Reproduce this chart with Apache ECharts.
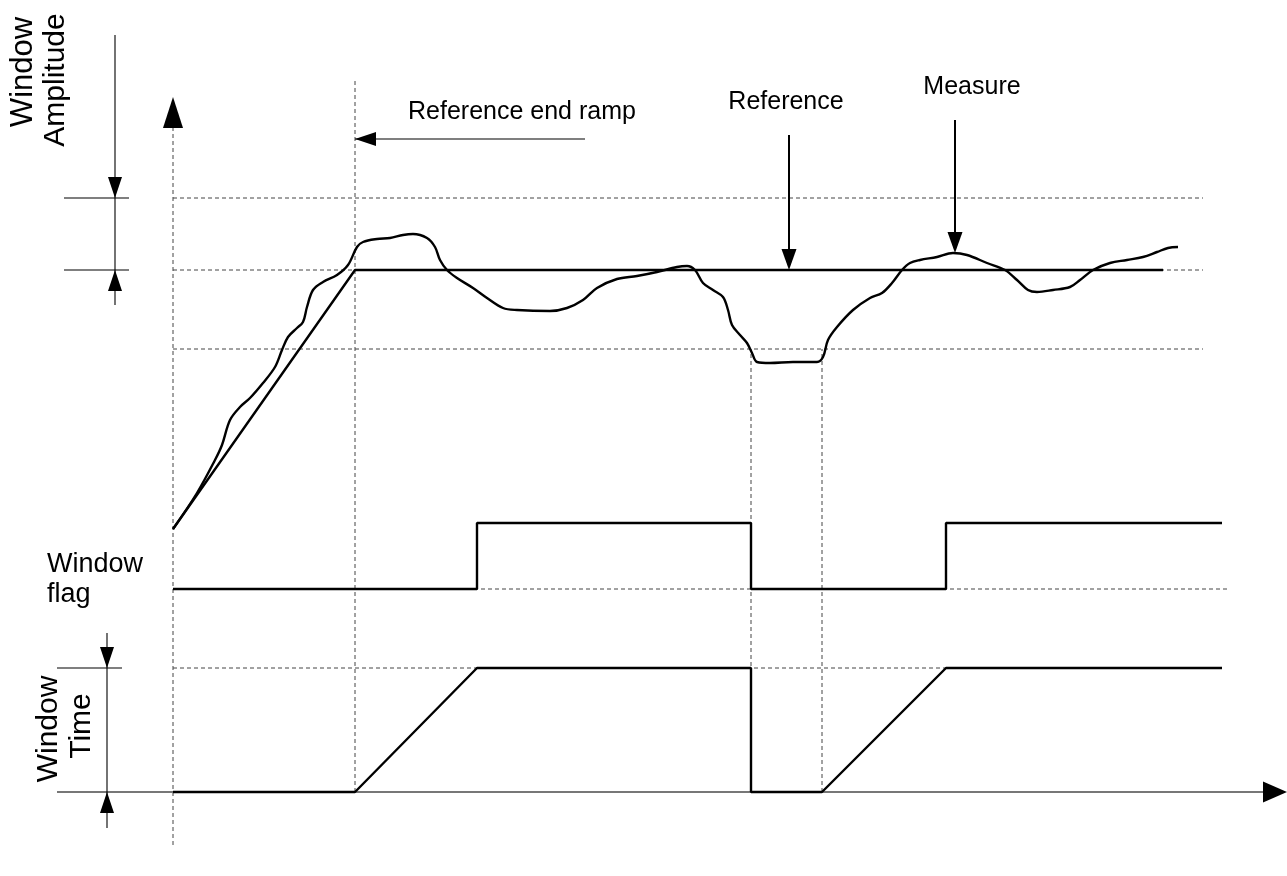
<!DOCTYPE html>
<html><head><meta charset="utf-8">
<script src="https://cdn.jsdelivr.net/npm/echarts@6/dist/echarts.min.js"></script>
<style>html,body{margin:0;padding:0;background:#fff}#c{width:1287px;height:876px}</style>
</head><body><div id="c"></div><script>
// ---- DATA (x: time units from the time origin, y: level units above the time baseline) ----
const referenceSignal = [[0,263],[182,522],[990,522]];
const measureSignal = [[0,263],[24,299],[42,332],[49,347],[57,372],[67,385],[77,394],[90,409],[102,425],[109,442],[115,455],[124,464],[130,470],[134,485],[140,502],[150,510],[164,517],[175,527],[184,545],[190,550],[204,553],[217,554],[230,557],[240,558],[254,554],[262,545],[267,532],[274,522],[284,514],[300,504],[314,494],[330,484],[344,482],[377,481],[394,484],[410,492],[424,504],[444,513],[464,516],[484,520],[504,525],[514,526],[522,522],[530,509],[540,502],[550,495],[555,482],[559,467],[567,457],[574,449],[579,439],[584,430],[597,429],[620,430],[644,430],[650,435],[655,452],[664,465],[680,482],[697,494],[709,499],[719,509],[729,522],[737,529],[747,532],[764,535],[780,539],[794,537],[814,529],[832,522],[844,512],[855,502],[864,500],[880,502],[897,505],[907,512],[920,522],[937,529],[954,532],[970,535],[984,540],[995,544],[1005,545]];
const windowFlag = [[0,203],[304,203],[304,269],[578,269],[578,203],[773,203],[773,269],[1049,269]];
const windowTime = [[0,0],[182,0],[304,124],[578,124],[578,0],[649,0],[773,124],[1049,124]];
// dashed guide lines [x1,y1,x2,y2]
const guideLines = [
  [0,594,1030,594],[0,522,1030,522],[0,443,1030,443],[0,203,1057,203],[0,124,1030,124],
  [0,-53,0,664],[182,0,182,712],[578,0,578,443],[649,0,649,443]
];
// thin annotation lines [x1,y1,x2,y2]
const annotationLines = [
  [182,653,412,653],            // reference end ramp arrow
  [-58,757,-58,487],            // window amplitude dimension
  [-109,594,-44,594],[-109,522,-44,522],
  [-66,159,-66,-36],            // window time dimension
  [-116,124,-51,124]
];
// pointer arrows [x1,y1,x2,y2]
const pointerLines = [
  [616,657,616,530],            // reference arrow
  [782,672,782,545]             // measure arrow
];
const timeAxisLine = [[-116,0,1092,0]];
// arrowheads [tipX, tipY, direction(0=right,1=up,2=left,3=down), kind]
const arrowHeads = [
  [0,695,1,'axisV'],[1114,0,0,'axisH'],
  [182,653,2,'small'],[616,522,3,'pointer'],[782,539,3,'pointer'],
  [-58,594,3,'small'],[-58,522,1,'small'],
  [-66,124,3,'small'],[-66,0,1,'small']
];
const labels = ['Reference end ramp','Reference','Measure','Window','flag','Window','Amplitude','Window','Time'];

// ---- CHART ----
const chart = echarts.init(document.getElementById('c'));
const FONT = '"Liberation Sans", Arial, sans-serif';
const headSize = {axisV:[31,10], axisH:[24,10.5], small:[21,7], pointer:[21,7.5]};
function segSeries(data, style, z){
  return {type:'custom', data, z, silent:true, animation:false,
    encode:{x:[0,2], y:[1,3]},
    renderItem(params, api){
      const a = api.coord([api.value(0), api.value(1)]);
      const b = api.coord([api.value(2), api.value(3)]);
      return {type:'line', shape:{x1:a[0],y1:a[1],x2:b[0],y2:b[1]}, style};
    }};
}
const lineStyleSolid = {color:'#000', width:2.4};
function sig(data, smooth){
  return {type:'line', data, smooth: smooth||false, showSymbol:false, symbol:'none',
    lineStyle:lineStyleSolid, z:5, animation:false, silent:true};
}
chart.setOption({
  animation:false,
  backgroundColor:'#fff',
  grid:{left:0,right:0,top:0,bottom:0},
  xAxis:{type:'value', min:-173, max:1114, show:false},
  yAxis:{type:'value', min:-84, max:792, show:false},
  series:[
    segSeries(guideLines, {stroke:'#444', lineWidth:1, lineDash:[4,3]}, 1),
    segSeries(annotationLines, {stroke:'#000', lineWidth:1.1}, 3),
    segSeries(pointerLines, {stroke:'#000', lineWidth:2}, 3),
    segSeries(timeAxisLine, {stroke:'#777', lineWidth:1.8}, 2),
    sig(referenceSignal),
    sig(measureSignal, 0.35),
    sig(windowFlag),
    sig(windowTime),
    {type:'custom', data:arrowHeads, z:6, silent:true, animation:false,
      encode:{x:0,y:1},
      renderItem(params, api){
        const d = arrowHeads[params.dataIndex];
        const tip = api.coord([d[0], d[1]]);
        const [len, hw] = headSize[d[3]];
        const ang = d[2]*Math.PI/2;
        const ux = Math.cos(ang), uy = -Math.sin(ang);
        const bx = tip[0]-ux*len, by = tip[1]-uy*len;
        const px = -uy, py = ux;
        return {type:'polygon', shape:{points:[tip,[bx+px*hw,by+py*hw],[bx-px*hw,by-py*hw]]},
          style:{fill:'#000'}};
      }}
  ],
  graphic:[
    {type:'text', x:408, y:112, style:{text:labels[0], font:'25px '+FONT, fill:'#000', verticalAlign:'middle', align:'left'}},
    {type:'text', x:786, y:102, style:{text:labels[1], font:'25px '+FONT, fill:'#000', verticalAlign:'middle', align:'center'}},
    {type:'text', x:972, y:87, style:{text:labels[2], font:'25px '+FONT, fill:'#000', verticalAlign:'middle', align:'center'}},
    {type:'text', x:47, y:565, style:{text:labels[3], font:'27px '+FONT, fill:'#000', verticalAlign:'middle', align:'left'}},
    {type:'text', x:47, y:595, style:{text:labels[4], font:'27px '+FONT, fill:'#000', verticalAlign:'middle', align:'left'}},
    {type:'text', x:23, y:72, rotation:Math.PI/2, style:{text:labels[5], font:'31px '+FONT, fill:'#000', verticalAlign:'middle', align:'center'}},
    {type:'text', x:56, y:80, rotation:Math.PI/2, style:{text:labels[6], font:'30px '+FONT, fill:'#000', verticalAlign:'middle', align:'center'}},
    {type:'text', x:49, y:729, rotation:Math.PI/2, style:{text:labels[7], font:'30px '+FONT, fill:'#000', verticalAlign:'middle', align:'center'}},
    {type:'text', x:82, y:726, rotation:Math.PI/2, style:{text:labels[8], font:'30px '+FONT, fill:'#000', verticalAlign:'middle', align:'center'}}
  ]
});
</script></body></html>
